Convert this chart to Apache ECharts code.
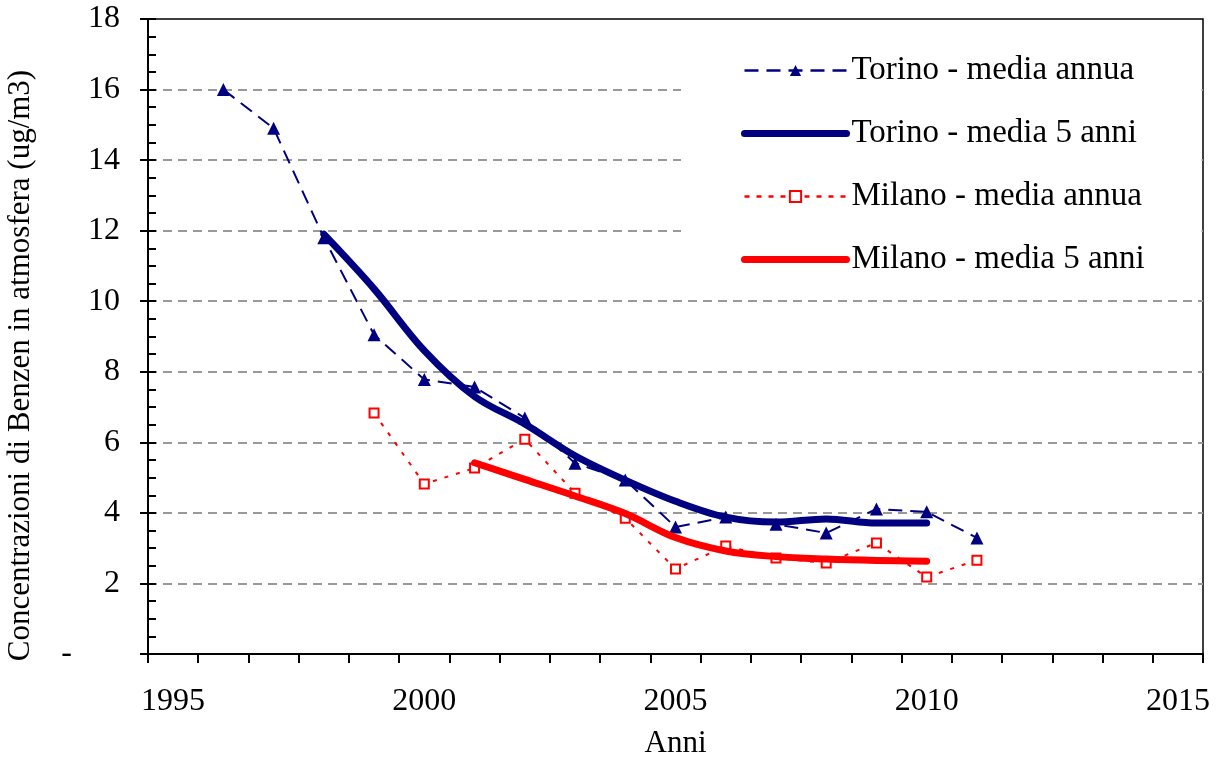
<!DOCTYPE html>
<html>
<head>
<meta charset="utf-8">
<script src="https://cdn.jsdelivr.net/npm/echarts/dist/echarts.min.js"></script>
<style>
html,body{margin:0;padding:0;background:#fff;}
#chart{width:1219px;height:760px;}
</style>
</head>
<body>
<div id="chart"></div>
<script>
var years = ['1995','1996','1997','1998','1999','2000','2001','2002','2003','2004','2005','2006','2007','2008','2009','2010','2011','2012','2013','2014','2015'];
var torinoAnnual = [null, 16.0, 14.9, 11.8, 9.05, 7.78, 7.57, 6.69, 5.41, 4.93, 3.6, 3.88, 3.68, 3.43, 4.11, 4.03, 3.29, null, null, null, null];
var torino5 = [null, null, null, 11.9, 10.35, 8.6, 7.3, 6.52, 5.62, 4.93, 4.33, 3.88, 3.74, 3.83, 3.71, 3.71, null, null, null, null, null];
var milanoAnnual = [null, null, null, null, 6.83, 4.82, 5.27, 6.09, 4.56, 3.85, 2.41, 3.06, 2.72, 2.58, 3.15, 2.18, 2.66, null, null, null, null];
var milano5 = [null, null, null, null, null, null, 5.42, 4.95, 4.48, 3.98, 3.3, 2.92, 2.76, 2.69, 2.65, 2.63, null, null, null, null, null];
var seriesNames = ['Torino - media annua', 'Torino - media 5 anni', 'Milano - media annua', 'Milano - media 5 anni'];
var yTitle = 'Concentrazioni di Benzen in atmosfera (ug/m3)';
var xTitle = 'Anni';

var FONT = "'Liberation Serif', 'Times New Roman', serif";
var NAVY = '#000080', RED = '#ff0000';
var HIDDEN_SYMBOL = {color: 'rgba(0,0,0,0)', borderWidth: 0, opacity: 0};

var chart = echarts.init(document.getElementById('chart'), null, {renderer: 'canvas'});
chart.setOption({
  animation: false,
  backgroundColor: '#ffffff',
  textStyle: {fontFamily: FONT, color: '#000'},
  grid: {left: 148, right: 16, top: 19, bottom: 106, containLabel: false, outerBoundsMode: 'none',
         show: true, borderColor: '#000', borderWidth: 1.5, backgroundColor: 'transparent'},
  graphic: [{
    type: 'rect', z: 1,
    shape: {x: 681, y: 21, width: 520.5, height: 258},
    style: {fill: '#ffffff'}
  }],
  legend: {
    orient: 'vertical', left: 741, top: 54, padding: 0,
    itemWidth: 102, itemHeight: 14, itemGap: 30,
    textStyle: {fontFamily: FONT, fontSize: 33, color: '#000', lineHeight: 32},
    data: [
      {name: seriesNames[0], lineStyle: {width: 2.5, type: [14, 8]}},
      {name: seriesNames[1], lineStyle: {width: 7, cap: 'round'}, itemStyle: HIDDEN_SYMBOL},
      {name: seriesNames[2], lineStyle: {width: 2.5, type: [5, 7]}},
      {name: seriesNames[3], lineStyle: {width: 7, cap: 'round'}, itemStyle: HIDDEN_SYMBOL}
    ]
  },
  xAxis: {
    type: 'category', data: years, boundaryGap: true,
    name: xTitle, nameLocation: 'middle', nameGap: 74,
    nameTextStyle: {fontFamily: FONT, fontSize: 31, color: '#000'},
    axisLine: {show: true, onZero: false, lineStyle: {color: '#000', width: 2}},
    axisTick: {show: true, interval: 0, alignWithLabel: false, inside: false, length: 9, lineStyle: {color: '#000', width: 2}},
    axisLabel: {interval: 4, margin: 32, fontFamily: FONT, fontSize: 32, color: '#000'},
    splitLine: {show: false}
  },
  yAxis: [{
    type: 'value', min: 0, max: 18, interval: 2, position: 'left',
    name: yTitle, nameLocation: 'middle', nameGap: 112,
    nameTextStyle: {fontFamily: FONT, fontSize: 31, color: '#000', padding: [0, 58, 0, 0]},
    axisLine: {show: true, lineStyle: {color: '#000', width: 2}},
    axisTick: {show: true, inside: false, length: 8, lineStyle: {color: '#000', width: 2}},
    axisLabel: {margin: 28, fontFamily: FONT, fontSize: 32, color: '#000',
      formatter: function (v) { return v === 0 ? '-\u2007\u2007\u2007' : String(v); }},
    splitLine: {show: true, showMaxLine: false, showMinLine: false,
      lineStyle: {color: '#999999', width: 2, type: [9, 6]}}
  }, {
    type: 'value', min: 0, max: 18, interval: 2, position: 'left', offset: 0,
    axisLine: {show: false},
    axisTick: {show: true, inside: true, length: 8, lineStyle: {color: '#000', width: 2}},
    minorTick: {show: true, splitNumber: 4, length: 8, lineStyle: {color: '#000', width: 2}},
    axisLabel: {show: false},
    splitLine: {show: false}
  }],
  series: [{
    name: seriesNames[0], type: 'line', data: torinoAnnual, yAxisIndex: 0,
    symbol: 'triangle', symbolSize: 13, showAllSymbol: true,
    itemStyle: {color: NAVY},
    lineStyle: {color: NAVY, width: 2, type: [14, 8]},
    z: 2
  }, {
    name: seriesNames[1], type: 'line', data: torino5, yAxisIndex: 0,
    symbol: 'none', smooth: 0.35,
    itemStyle: {color: NAVY},
    lineStyle: {color: NAVY, width: 7, cap: 'round', join: 'round'},
    z: 3
  }, {
    name: seriesNames[2], type: 'line', data: milanoAnnual, yAxisIndex: 0,
    symbol: 'rect', symbolSize: 9, showAllSymbol: true,
    itemStyle: {color: '#ffffff', borderColor: RED, borderWidth: 2},
    lineStyle: {color: RED, width: 2, type: [4, 8]},
    z: 4
  }, {
    name: seriesNames[3], type: 'line', data: milano5, yAxisIndex: 0,
    symbol: 'none', smooth: 0.35,
    itemStyle: {color: RED},
    lineStyle: {color: RED, width: 7, cap: 'round', join: 'round'},
    z: 5
  }]
});
</script>
</body>
</html>
